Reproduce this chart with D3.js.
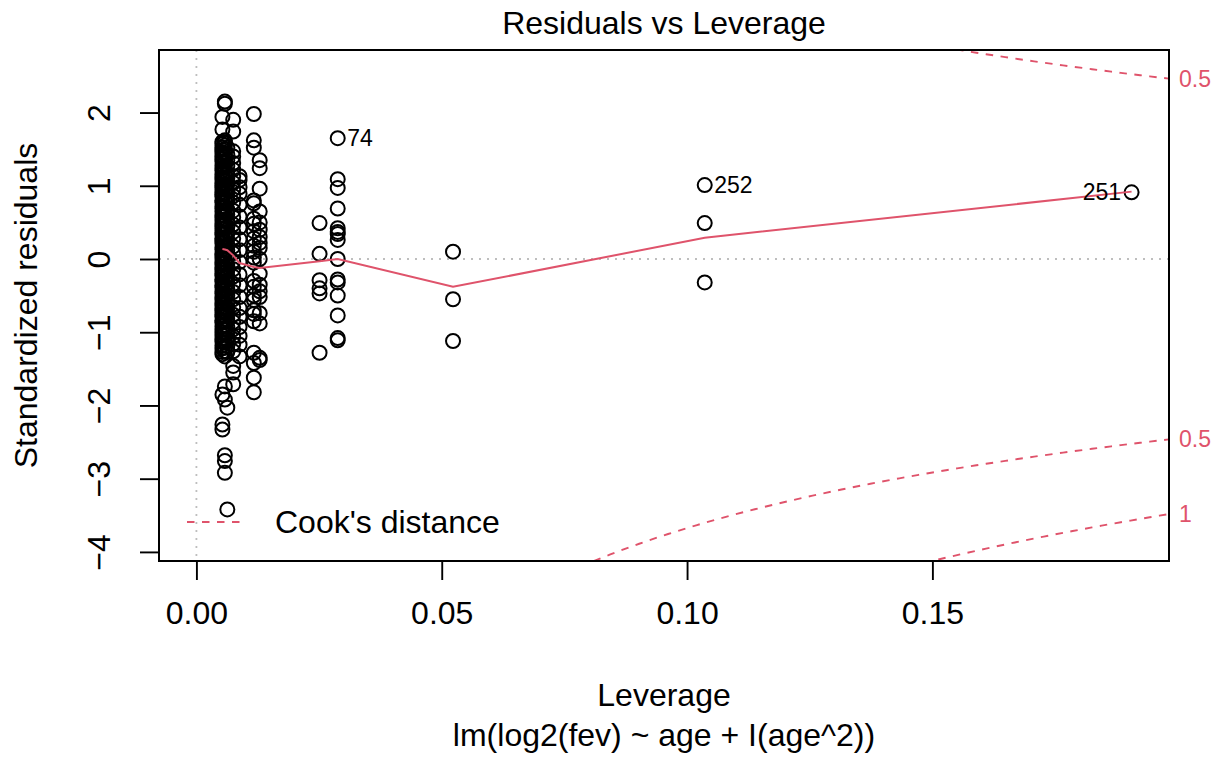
<!DOCTYPE html>
<html><head><meta charset="utf-8">
<script src="https://cdn.jsdelivr.net/npm/d3@7"></script>
<style>
body{margin:0;background:#fff}
text{font-family:"Liberation Sans",Arial,Helvetica,sans-serif}
</style>
</head><body>
<svg id="chart" width="1220" height="757"></svg>
<script>
// ---- data ----
const leverageLevels = [0.0053, 0.0058, 0.0063, 0.0075, 0.0088, 0.0117, 0.0129, 0.0251, 0.0288, 0.0523, 0.1036, 0.1906];
const res0053 = [1.94, 1.77, 1.60, 1.57, 1.52, 1.49, 1.46, 1.41, 1.37, 1.33, 1.28, 1.24, 1.21, 1.16, 1.12, 1.09, 1.04, 1.00, 0.97, 0.92, 0.88, 0.85, 0.80, 0.77, 0.72, 0.69, 0.65, 0.60, 0.57, 0.53, 0.48, 0.45, 0.41, 0.36, 0.33, 0.28, 0.25, 0.21, 0.16, 0.13, 0.08, 0.05, 0.01, -0.04, -0.07, -0.12, -0.15, -0.20, -0.23, -0.28, -0.31, -0.36, -0.39, -0.44, -0.47, -0.52, -0.55, -0.60, -0.63, -0.68, -0.71, -0.76, -0.79, -0.84, -0.87, -0.92, -0.96, -1.00, -1.04, -1.09, -1.13, -1.18, -1.22, -1.27, -1.30, -1.85, -2.26, -2.33];
const res0058 = [2.15, 2.12, 1.62, 1.59, 1.55, 1.50, 1.44, 1.39, 1.33, 1.26, 1.19, 1.14, 1.07, 1.01, 0.95, 0.90, 0.83, 0.78, 0.71, 0.66, 0.59, 0.54, 0.47, 0.42, 0.35, 0.30, 0.23, 0.18, 0.11, 0.06, -0.01, -0.06, -0.13, -0.18, -0.25, -0.30, -0.37, -0.42, -0.49, -0.54, -0.61, -0.66, -0.73, -0.78, -0.85, -0.90, -0.97, -1.02, -1.09, -1.14, -1.21, -1.26, -1.33, -1.74, -1.92, -2.68, -2.76, -2.92];
const res0063 = [1.52, 1.43, 1.35, 1.27, 1.17, 1.10, 1.02, 0.93, 0.86, 0.79, 0.68, 0.61, 0.52, 0.44, 0.37, 0.27, 0.19, 0.12, 0.03, -0.08, -0.16, -0.24, -0.33, -0.41, -0.50, -0.58, -0.67, -0.75, -0.83, -0.92, -1.01, -1.10, -1.19, -1.27, -2.03, -3.42];
const res0075 = [1.90, 1.74, 1.47, 1.40, 1.31, 1.22, 1.13, 1.04, 0.95, 0.86, 0.77, 0.66, 0.57, 0.47, 0.37, 0.28, 0.17, 0.08, -0.03, -0.14, -0.24, -0.34, -0.45, -0.55, -0.66, -0.76, -0.86, -0.96, -1.06, -1.16, -1.26, -1.46, -1.55, -1.71];
const res0088 = [1.13, 1.08, 0.98, 0.89, 0.74, 0.58, 0.43, 0.27, 0.12, -0.04, -0.21, -0.36, -0.52, -0.67, -0.79, -0.93, -1.05, -1.17, -1.33];
const res0117 = [1.98, 1.62, 1.52, 0.80, 0.76, 0.55, 0.48, 0.38, 0.28, 0.18, 0.10, 0.02, -0.05, -0.30, -0.38, -0.50, -0.56, -0.70, -0.75, -0.85, -1.28, -1.42, -1.62, -1.82];
const res0129 = [1.35, 1.24, 0.96, 0.65, 0.50, 0.40, 0.30, 0.22, 0.15, 0.00, -0.20, -0.35, -0.44, -0.52, -0.74, -0.88, -1.35, -1.38];
const res0251 = [0.49, 0.07, -0.29, -0.40, -0.47, -1.28];
const res0288 = [1.65, 1.09, 0.97, 0.69, 0.42, 0.37, 0.34, 0.26, 0.00, -0.28, -0.32, -0.50, -0.77, -1.08, -1.11];
const res0523 = [0.10, -0.55, -1.12];
const res1036 = [1.01, 0.49, -0.32];
const res1906 = [0.91];
const residualColumns = [res0053, res0058, res0063, res0075, res0088, res0117, res0129, res0251, res0288, res0523, res1036, res1906];

const idLabels = ["74", "252", "251"];
const idLeverage = [0.0288, 0.1036, 0.1906];
const idResidual = [1.65, 1.01, 0.91];

const smoothLeverage = [0.0053, 0.0058, 0.0063, 0.0075, 0.0088, 0.0117, 0.0129, 0.0251, 0.0288, 0.0523, 0.1036, 0.1906];
const smoothResidual = [0.136, 0.13, 0.12, 0.05, -0.055, -0.11, -0.123, -0.03, 0.0, -0.38, 0.29, 0.92];

const xTicks = [0, 0.05, 0.10, 0.15];
const xTickLabels = ["0.00", "0.05", "0.10", "0.15"];
const yTicks = [-4, -3, -2, -1, 0, 1, 2];
const yTickLabels = ["\u22124", "\u22123", "\u22122", "\u22121", "0", "1", "2"];
const cookLevels = [0.5, 1];
const nParams = 3;

const titleText = "Residuals vs Leverage";
const xLabelText = "Leverage";
const subText = "lm(log2(fev) ~ age + I(age^2))";
const yLabelText = "Standardized residuals";
const legendText = "Cook's distance";

// ---- layout ----
const RED = "#DF536B";
const F = 32;
const FID = 23;
const box = {left: 159, right: 1169, top: 50, bottom: 561};

const points = [];
residualColumns.forEach((col, i) => col.forEach(r => points.push({h: leverageLevels[i], r})));

const hMax = d3.max(points, d => d.h);
const xr = [0, hMax];
const xpad = (xr[1] - xr[0]) * 0.04;
const x = d3.scaleLinear().domain([xr[0] - xpad, xr[1] + xpad]).range([box.left, box.right]);
let yr = d3.extent(points, d => d.r);
let e1 = (yr[1] - yr[0]) * 0.08; yr = [yr[0] - e1, yr[1] + e1];
let e2 = (yr[1] - yr[0]) * 0.04;
const y = d3.scaleLinear().domain([yr[0] - e2, yr[1] + e2]).range([box.bottom, box.top]);

const svg = d3.select("#chart");
svg.append("rect").attr("width", 1220).attr("height", 757).attr("fill", "#fff");
svg.append("defs").append("clipPath").attr("id", "plotclip")
  .append("rect").attr("x", box.left).attr("y", box.top)
  .attr("width", box.right - box.left).attr("height", box.bottom - box.top);

// reference lines h=0, v=0
const g = svg.append("g").attr("clip-path", "url(#plotclip)");
g.append("line").attr("x1", box.left).attr("x2", box.right).attr("y1", y(0)).attr("y2", y(0))
  .attr("stroke", "#BEBEBE").attr("stroke-width", 1.8).attr("stroke-dasharray", "2,6");
g.append("line").attr("x1", x(0)).attr("x2", x(0)).attr("y1", box.top).attr("y2", box.bottom)
  .attr("stroke", "#BEBEBE").attr("stroke-width", 1.8).attr("stroke-dasharray", "2,6");

// points
g.selectAll("circle.pt").data(points).join("circle").attr("class", "pt")
  .attr("cx", d => x(d.h)).attr("cy", d => y(d.r)).attr("r", 7)
  .attr("fill", "none").attr("stroke", "#000").attr("stroke-width", 2);

// smoother
const smooth = smoothLeverage.map((h, i) => [h, smoothResidual[i]]);
g.append("path").attr("d", d3.line().x(d => x(d[0])).y(d => y(d[1]))(smooth))
  .attr("fill", "none").attr("stroke", RED).attr("stroke-width", 2);

// Cook's distance contours
const usr = x.domain();
const hMin = Math.min(leverageLevels[0], hMax / 100);
const hh = d3.range(101).map(i => hMin + (usr[1] - hMin) * i / 100);
cookLevels.forEach(crit => {
  [1, -1].forEach(sgn => {
    const pts = hh.map(h => [h, sgn * Math.sqrt(crit * nParams * (1 - h) / h)]);
    g.append("path").attr("d", d3.line().x(d => x(d[0])).y(d => y(Math.max(-50, Math.min(50, d[1]))))(pts))
      .attr("fill", "none").attr("stroke", RED).attr("stroke-width", 1.9).attr("stroke-dasharray", "7.5,7.5");
  });
});
const xmaxC = Math.min(0.99, usr[1]);
const aty = cookLevels.map(c => Math.sqrt(c * nParams * (1 - xmaxC) / xmaxC));
const cookLab = [];
cookLevels.forEach((c, i) => { cookLab.push({v: aty[i], t: String(c)}); cookLab.push({v: -aty[i], t: String(c)}); });
const yd = y.domain();
svg.selectAll("text.cook").data(cookLab.filter(d => d.v >= yd[0] && d.v <= yd[1])).join("text")
  .attr("class", "cook").attr("x", box.right + 10).attr("y", d => y(d.v)).attr("dy", "0.35em")
  .attr("font-size", FID).attr("fill", RED).text(d => d.t);

// id labels (the largest-leverage point is labelled on its left)
idLabels.forEach((lab, i) => {
  const right = idLeverage[i] < hMax;
  svg.append("text").attr("x", x(idLeverage[i]) + (right ? 9.5 : -10.5)).attr("y", y(idResidual[i]))
    .attr("dy", "0.35em").attr("text-anchor", right ? "start" : "end")
    .attr("font-size", FID).attr("fill", "#000").text(lab);
});

// box
svg.append("rect").attr("x", box.left).attr("y", box.top)
  .attr("width", box.right - box.left).attr("height", box.bottom - box.top)
  .attr("fill", "none").attr("stroke", "#000").attr("stroke-width", 2);

// x axis
const xAxis = svg.append("g").attr("transform", `translate(0,${box.bottom})`)
  .call(d3.axisBottom(x).tickValues(xTicks).tickFormat((d, i) => xTickLabels[i]).tickSize(19).tickPadding(0));
xAxis.select(".domain").remove();
xAxis.selectAll(".tick line").attr("stroke", "#000").attr("stroke-width", 1.9);
xAxis.selectAll(".tick text").attr("y", 63).attr("dy", null).attr("font-size", F)
  .attr("font-family", '"Liberation Sans",Arial,sans-serif').attr("fill", "#000");

// y axis
const yAxis = svg.append("g").attr("transform", `translate(${box.left},0)`)
  .call(d3.axisLeft(y).tickValues(yTicks).tickFormat((d, i) => yTickLabels[i]).tickSize(19).tickPadding(0));
yAxis.select(".domain").remove();
yAxis.selectAll(".tick line").attr("stroke", "#000").attr("stroke-width", 1.9);
yAxis.selectAll(".tick text").attr("x", null).attr("dy", null).attr("text-anchor", "middle")
  .attr("transform", "translate(-49,0) rotate(-90)").attr("font-size", F)
  .attr("font-family", '"Liberation Sans",Arial,sans-serif').attr("fill", "#000");

// titles
const cx = (box.left + box.right) / 2;
svg.append("text").attr("x", cx).attr("y", 34).attr("text-anchor", "middle").attr("font-size", F).text(titleText);
svg.append("text").attr("x", cx).attr("y", 706).attr("text-anchor", "middle").attr("font-size", F).text(xLabelText);
svg.append("text").attr("x", cx).attr("y", 746).attr("text-anchor", "middle").attr("font-size", F).text(subText);
svg.append("text").attr("transform", `translate(37,${(box.top + box.bottom) / 2}) rotate(-90)`)
  .attr("text-anchor", "middle").attr("font-size", F).text(yLabelText);

// legend
const ly = 522;
svg.append("line").attr("x1", 187).attr("x2", 243).attr("y1", ly).attr("y2", ly)
  .attr("stroke", RED).attr("stroke-width", 1.9).attr("stroke-dasharray", "7.5,7.5");
svg.append("text").attr("x", 275).attr("y", ly).attr("dy", "0.35em").attr("font-size", F).text(legendText);
</script>
</body></html>
